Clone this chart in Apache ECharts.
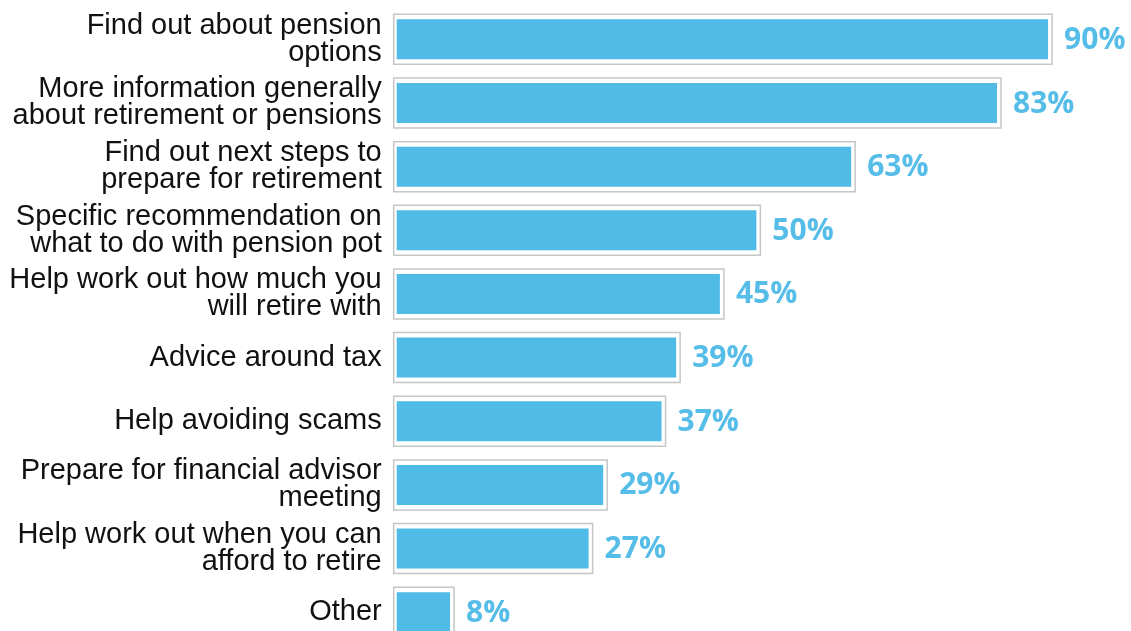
<!DOCTYPE html>
<html><head><meta charset="utf-8">
<script src="https://cdn.jsdelivr.net/npm/echarts@6/dist/echarts.min.js"></script>
<style>html,body{margin:0;padding:0;background:#fff}#c{width:1131px;height:631px}</style>
</head><body><div id="c"></div>
<script>
const categories = [
  "Find out about pension\noptions",
  "More information generally\nabout retirement or pensions",
  "Find out next steps to\nprepare for retirement",
  "Specific recommendation on\nwhat to do with pension pot",
  "Help work out how much you\nwill retire with",
  "Advice around tax",
  "Help avoiding scams",
  "Prepare for financial advisor\nmeeting",
  "Help work out when you can\nafford to retire",
  "Other"
];
const values = [90, 83, 63, 50, 45, 39, 37, 29, 27, 8];

const chart = echarts.init(document.getElementById('c'), null, {renderer: 'canvas'});
chart.setOption({
  animation: false,
  backgroundColor: '#fff',
  grid: {left: 391.7, right: 10, top: 7.5, height: 636.5, containLabel: false, outerBoundsMode: 'none'},
  xAxis: {type: 'value', min: 0, max: 100, show: false},
  yAxis: {
    type: 'category', data: categories, inverse: true,
    axisLine: {show: false}, axisTick: {show: false}, splitLine: {show: false},
    axisLabel: {
      margin: 10, color: '#111', fontFamily: "'Liberation Sans', Arial, sans-serif",
      fontSize: 29, lineHeight: 27, align: 'right'
    }
  },
  series: [{
    type: 'custom',
    data: values.map((v, i) => [v, i]),
    encode: {x: 0, y: 1},
    clip: false,
    renderItem: function (params, api) {
      const v = api.value(0), i = api.value(1);
      const p0 = api.coord([0, i]);
      const p1 = api.coord([v, i]);
      const cy = p0[1];
      return {
        type: 'group',
        children: [
          {type: 'rect', shape: {x: p0[0] + 2, y: cy - 25, width: p1[0] - p0[0] + 2, height: 50},
           style: {fill: '#fff', stroke: '#c6c6c6', lineWidth: 1.5}},
          {type: 'rect', shape: {x: p0[0] + 5, y: cy - 20, width: p1[0] - p0[0] - 5, height: 40},
           style: {fill: '#4FBBE6'}},
          {type: 'text', x: p1[0] + 16, y: cy + 1,
           style: {text: v + '%', fill: '#55BDE7', font: "bold 30px 'Open Sans', sans-serif",
                   verticalAlign: 'middle', align: 'left'}}
        ]
      };
    }
  }]
});
</script></body></html>
